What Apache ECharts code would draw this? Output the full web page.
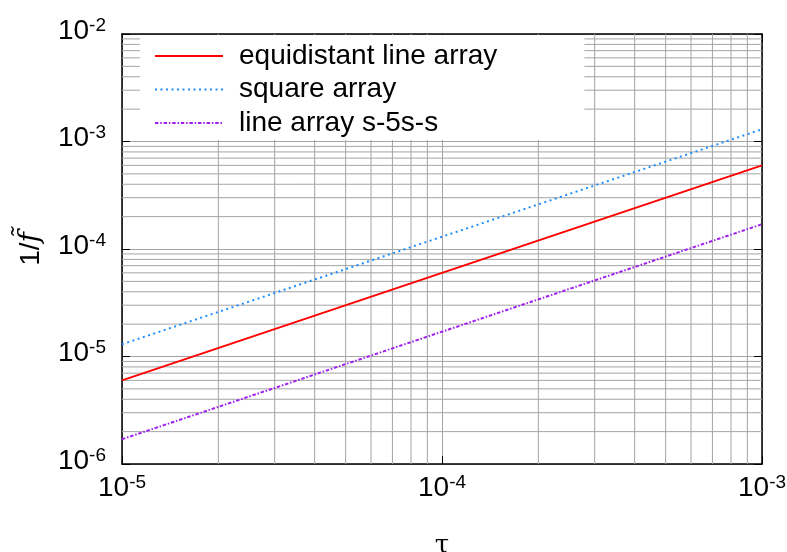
<!DOCTYPE html>
<html>
<head>
<meta charset="utf-8">
<script src="https://cdn.jsdelivr.net/npm/echarts@6/dist/echarts.min.js"></script>
<style>html,body{margin:0;padding:0;background:#fff}#c{width:787px;height:552px}</style>
</head>
<body>
<div id="c"></div>
<script>
// ---- data ----
var tau = [1e-5, 1e-4, 1e-3];
var equidistantLine = [6e-6, 6e-5, 6e-4];
var squareArray = [1.3e-5, 1.3e-4, 1.3e-3];
var lineArray5s = [1.7e-6, 1.7e-5, 1.7e-4];
var seriesNames = ['equidistant line array', 'square array', 'line array s-5s-s'];
var xDecades = [-5, -4, -3];
var yDecades = [-6, -5, -4, -3, -2];
var xRange = [1e-5, 1e-3];
var yRange = [1e-6, 1e-2];

function pairs(xs, ys) { return xs.map(function (x, i) { return [x, ys[i]]; }); }
function minorVals(decs) {
  var out = [];
  for (var i = 0; i < decs.length - 1; i++) {
    for (var m = 2; m <= 9; m++) out.push(m * Math.pow(10, decs[i]));
  }
  return out;
}
var FONT = '"Liberation Sans", Arial, sans-serif';
var rich = {
  b: { fontSize: 28, fontFamily: FONT, color: '#000', lineHeight: 36, verticalAlign: 'middle', padding: [0, 0, 6, 0] },
  s: { fontSize: 19, fontFamily: FONT, color: '#000', lineHeight: 36, verticalAlign: 'top' }
};
function fmt(v) { return '{b|10}{s|' + Math.round(Math.log10(v)) + '}'; }

var gridColor = '#a4a4a4';
var gridSeries = [];
minorVals(xDecades).forEach(function (v) {
  gridSeries.push({ type: 'line', silent: true, symbol: 'none', z: 1, animation: false,
    data: [[v, yRange[0]], [v, yRange[1]]], lineStyle: { color: gridColor, width: 1 } });
});
minorVals(yDecades).forEach(function (v) {
  gridSeries.push({ type: 'line', silent: true, symbol: 'none', z: 1, animation: false,
    data: [[xRange[0], v], [xRange[1], v]], lineStyle: { color: gridColor, width: 1 } });
});

var chart = echarts.init(document.getElementById('c'), null, { renderer: 'canvas' });
chart.setOption({
  animation: false,
  backgroundColor: '#fff',
  grid: { left: 122, right: 25, top: 34, bottom: 88, outerBoundsMode: 'none', containLabel: false },
  legend: {
    data: seriesNames,
    orient: 'vertical',
    left: 140, top: 35,
    padding: [7, 87, 3, 14],
    itemGap: 5.5,
    itemWidth: 68, itemHeight: 14,
    backgroundColor: '#fff',
    z: 10,
    itemStyle: { opacity: 0, color: 'rgba(0,0,0,0)', borderWidth: 0 },
    textStyle: { fontSize: 28, fontFamily: FONT, color: '#000', padding: [0, 0, 0, 11] }
  },
  xAxis: [{
    type: 'log', logBase: 10, min: xRange[0], max: xRange[1],
    name: 'τ', nameLocation: 'middle', nameGap: 69,
    nameTextStyle: { fontSize: 26, fontFamily: '"DejaVu Serif", serif', color: '#000' },
    axisLine: { show: true, onZero: false, lineStyle: { color: '#000', width: 1.5 } },
    axisTick: { show: true, inside: true, length: 8, lineStyle: { color: '#000' } },
    axisLabel: { formatter: fmt, rich: rich, margin: 9 },
    splitLine: { show: true, lineStyle: { color: gridColor, width: 1 } }
  }, {
    type: 'log', logBase: 10, min: xRange[0], max: xRange[1], position: 'top',
    axisLine: { show: true, onZero: false, lineStyle: { color: '#000', width: 1.5 } },
    axisTick: { show: true, inside: true, length: 8, lineStyle: { color: '#000' } },
    axisLabel: { show: false }, splitLine: { show: false }
  }],
  yAxis: [{
    type: 'log', logBase: 10, min: yRange[0], max: yRange[1],
    name: '{n|1/}{f|f\u0303}', nameLocation: 'middle', nameGap: 77, nameRotate: 90,
    nameTextStyle: {
      rich: {
        n: { fontSize: 28, fontFamily: FONT, color: '#000' },
        f: { fontSize: 28, fontFamily: '"DejaVu Serif", serif', fontStyle: 'italic', color: '#000' }
      }
    },
    axisLine: { show: true, onZero: false, lineStyle: { color: '#000', width: 1.5 } },
    axisTick: { show: true, inside: true, length: 8, lineStyle: { color: '#000' } },
    axisLabel: { formatter: fmt, rich: rich, margin: 16 },
    splitLine: { show: true, lineStyle: { color: gridColor, width: 1 } }
  }, {
    type: 'log', logBase: 10, min: yRange[0], max: yRange[1], position: 'right',
    axisLine: { show: true, onZero: false, lineStyle: { color: '#000', width: 1.5 } },
    axisTick: { show: true, inside: true, length: 8, lineStyle: { color: '#000' } },
    axisLabel: { show: false }, splitLine: { show: false }
  }],
  series: gridSeries.concat([{
    name: seriesNames[0], type: 'line', symbol: 'none', data: pairs(tau, equidistantLine),
    lineStyle: { color: '#ff0000', width: 2, type: 'solid' }, itemStyle: { color: '#ff0000' }, z: 5
  }, {
    name: seriesNames[1], type: 'line', symbol: 'none', data: pairs(tau, squareArray),
    lineStyle: { color: '#1e8fff', width: 2, type: [2, 3.5] }, itemStyle: { color: '#1e8fff' }, z: 5
  }, {
    name: seriesNames[2], type: 'line', symbol: 'none', data: pairs(tau, lineArray5s),
    lineStyle: { color: '#a020f0', width: 2, type: [3.5, 1.8, 1.5, 1.8] }, itemStyle: { color: '#a020f0' }, z: 5
  }])
});
</script>
</body>
</html>
